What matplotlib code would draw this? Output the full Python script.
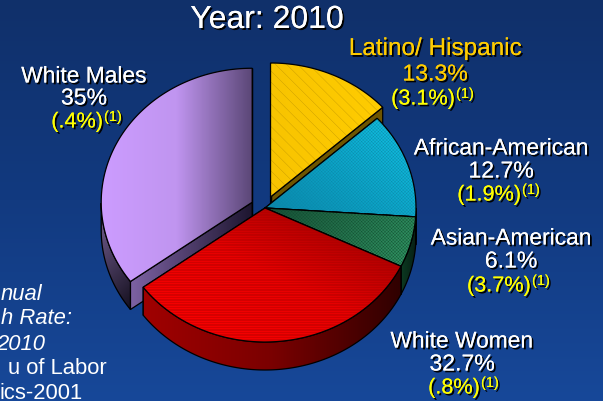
import numpy as np
import matplotlib
matplotlib.use("Agg")
import matplotlib.pyplot as plt
import matplotlib.patheffects as pe
from matplotlib.colors import LinearSegmentedColormap
from matplotlib.patches import PathPatch, Polygon

groups = ["Latino/ Hispanic", "African-American", "Asian-American", "White Women", "White Males"]
shares = [13.3, 12.7, 6.1, 32.7, 35.0]
share_labels = ["13.3%", "12.7%", "6.1%", "32.7%", "35%"]
rate_labels = ["(3.1%)", "(1.9%)", "(3.7%)", "(.8%)", "(.4%)"]
explode = [0.09, 0, 0, 0, 0.095]

plt.rcParams["font.family"] = ["Liberation Sans", "DejaVu Sans"]
plt.rcParams["hatch.linewidth"] = 0.25

W, H = 603, 402
CX, CY, RX, RY = 265, 209, 151, 134
DEPTH = 28 / RY


def shade(ax, verts, colors, direction, z, clip=None):
    # gradient image clipped to a polygon or to an existing patch
    verts = np.asarray(verts)
    x0, y0 = verts.min(axis=0)
    x1, y1 = verts.max(axis=0)
    xx, yy = np.meshgrid(np.linspace(x0, x1, 120), np.linspace(y0, y1, 120))
    t = xx * direction[0] + yy * direction[1]
    t = (t - t.min()) / max(t.max() - t.min(), 1e-6)
    cmap = LinearSegmentedColormap.from_list("g", colors)
    im = ax.imshow(t, cmap=cmap, extent=(x0, x1, y0, y1), origin="lower",
                   aspect="auto", zorder=z, interpolation="bilinear")
    if clip is None:
        clip = Polygon(verts, closed=True, transform=ax.transData, fill=False, lw=0)
        ax.add_patch(clip)
    im.set_clip_path(clip)


def outline(ax, verts, z, lw=0.9):
    ax.add_patch(Polygon(verts, closed=True, fill=False, ec="black", lw=lw, zorder=z))


fig = plt.figure(figsize=(W / 100, H / 100), dpi=100)

# background and text layer use pixel coordinates
bg = fig.add_axes([0, 0, 1, 1])
bg.set_xlim(0, W)
bg.set_ylim(H, 0)
bg.axis("off")
sky = np.linspace(0, 1, 200).reshape(-1, 1)
bg.imshow(sky, cmap=LinearSegmentedColormap.from_list("bg", ["#10306a", "#123a80", "#174899"]),
          extent=(0, W, H, 0), aspect="auto")
bg.set_xlim(0, W)
bg.set_ylim(H, 0)

# pie layer, squashed so the disc reads as tilted
ax = fig.add_axes([0, 0, 1, 1])
ax.patch.set_alpha(0)
wedges, _ = ax.pie(shares, explode=explode, startangle=90, counterclock=False, radius=1,
                   center=(0, 0), frame=False)
ax.set_aspect("auto")
ax.set_xlim(-CX / RX, (W - CX) / RX)
ax.set_ylim(-(H - CY) / RY, CY / RY)
ax.set_autoscale_on(False)
ax.axis("off")

face_colors = [
    (["#f8c400", "#ffcc00"], (1, 0)),
    (["#0a86a8", "#0ca6c8", "#12c8e8"], (1, 1)),
    (["#174f35", "#329a66"], (1, -0.6)),
    (["#ff0000", "#e80000", "#8c0000"], (0.55, 1)),
    (["#cc9cff", "#c095f0", "#5c4878"], (1, 0)),
]
wall_colors = [
    (["#6e5500", "#5a4400"], (1, 0)),
    (["#064a60", "#064a60"], (1, 0)),
    (["#0c3a22", "#071f14"], (1, 0)),
    (["#a00000", "#7a0000", "#300000"], (1, 0)),
    (["#7a6499", "#15101f"], (1, -0.8)),
]
cut_colors = [
    (["#6e5500", "#6e5500"], (1, 0)),
    (["#064a60", "#064a60"], (1, 0)),
    (["#0c3a22", "#0c3a22"], (1, 0)),
    (["#700000", "#700000"], (1, 0)),
    (["#7d62a3", "#1e1630"], (1, 0)),
]
hatches = ["\\\\\\", "xxxxxxxxxx", "xxxxxxxxxx", "----------", None]
hatch_colors = ["#c09600", "#0c86aa", "#124a30", "#a00000", "none"]

# back pieces first so the red slice ends up over the lilac wall
order = [4, 0, 1, 2, 3]
z = 2
for i in order:
    w = wedges[i]
    w.set_visible(False)
    cx, cy = w.center
    th = np.radians(np.linspace(w.theta1, w.theta2, 300))
    rim = np.column_stack((cx + np.cos(th), cy + np.sin(th)))
    down = np.array([0, DEPTH])

    # the two cut faces
    for end in (rim[0], rim[-1]):
        cut = [(cx, cy), end, end - down, (cx, cy - DEPTH)]
        shade(ax, cut, *cut_colors[i], z)
        outline(ax, cut, z + 0.1)
        z += 1

    # outer wall, only the front half of the rim shows
    low = rim[np.sin(th) < 0]
    if len(low) > 1:
        wall = np.vstack((low, (low - down)[::-1]))
        shade(ax, wall, *wall_colors[i], z)
        outline(ax, wall, z + 0.1)
        z += 1

    # top face
    top = np.vstack(([cx, cy], rim))
    clip = PathPatch(w.get_path(), transform=ax.transData, fill=False, lw=0)
    ax.add_patch(clip)
    shade(ax, top, *face_colors[i], z, clip=clip)
    z += 1
    if hatches[i]:
        ax.add_patch(Polygon(top, closed=True, fc="none", ec=hatch_colors[i], lw=0,
                             hatch=hatches[i], zorder=z))
        z += 1
    outline(ax, top, z)
    z += 1

# text goes on its own axes above the pie
tx = fig.add_axes([0, 0, 1, 1])
tx.patch.set_alpha(0)
tx.set_xlim(0, W)
tx.set_ylim(H, 0)
tx.axis("off")
shadow = [pe.withSimplePatchShadow(offset=(1.3, -1.3), shadow_rgbFace="black", alpha=1.0), pe.Normal()]


def put(x, y, s, color="white", size=16.4, ha="center", va="center", **kw):
    t = tx.text(x, y, s, color=color, fontsize=size, ha=ha, va=va, **kw)
    t.set_path_effects(shadow)
    return t


put(267, 21, "Year: 2010", size=23)

# x of each label block, y of the three rows, left and right of the rate text
label_x = [435, 501, 511, 462, 84]
row_y = [(50, 75, 100), (149, 172, 196), (239, 262, 287), (342, 365, 389), (77, 99, 123)]
rate_right = [455, 521, 531, 480, 103]
for i, name in enumerate(groups):
    color = "#ffcc00" if i == 0 else "white"
    y1, y2, y3 = row_y[i]
    put(label_x[i], y1, name, color=color, size=17.5 if i == 0 else 16.4)
    put(label_x[i], y2, share_labels[i], color=color, size=16.6)
    put(rate_right[i], y3, rate_labels[i], color="#ffff00", ha="right", size=15.6)
    put(rate_right[i] + 1, y3 - 5, "(1)", color="#ffff00", size=10.5, ha="left")

# side note, only the part left of the pie is on the slide
notes = [("nual", 42, 295, "italic"), ("h Rate:", 72, 319, "italic"),
         ("2010", 45, 345, "italic"), ("u of Labor", 107, 369, "normal"),
         ("ics-2001", 83, 394, "normal")]
for s, x, y, st in notes:
    tx.text(x, y, s, color="white", fontsize=15.8, ha="right", va="center", style=st)

fig.savefig("out.png", dpi=100)
